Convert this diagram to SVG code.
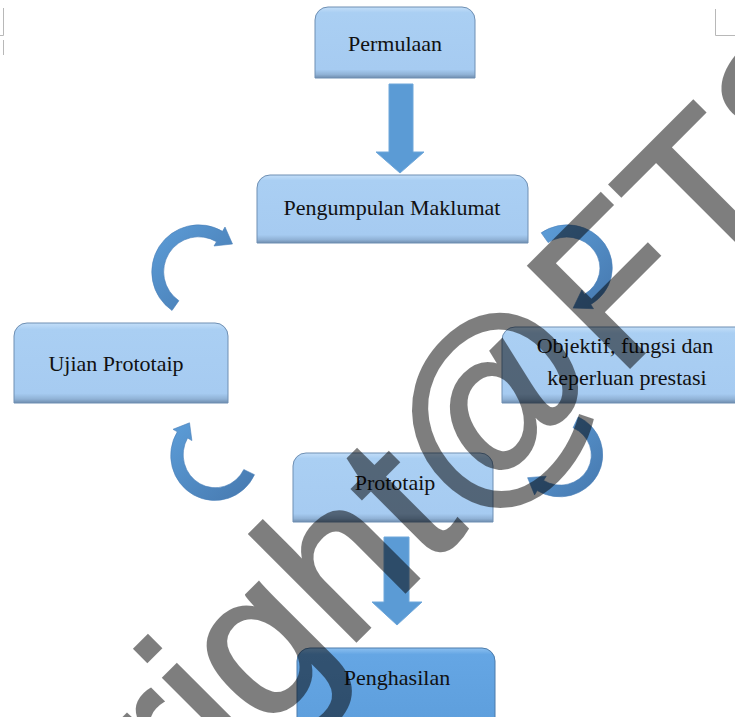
<svg xmlns="http://www.w3.org/2000/svg" width="735" height="717" viewBox="0 0 735 717">
<defs>
<linearGradient id="boxFill" x1="0" y1="0" x2="0" y2="1">
<stop offset="0" stop-color="#C3DEF8"/>
<stop offset="0.08" stop-color="#AACFF3"/>
<stop offset="0.88" stop-color="#A6CBF1"/>
<stop offset="0.95" stop-color="#90B2D6"/>
<stop offset="1" stop-color="#6F8DAE"/>
</linearGradient>
<linearGradient id="boxDark" x1="0" y1="0" x2="0" y2="1">
<stop offset="0" stop-color="#8CC0F0"/>
<stop offset="0.08" stop-color="#65A6E4"/>
<stop offset="0.88" stop-color="#5E9FDD"/>
<stop offset="0.95" stop-color="#4F86BC"/>
<stop offset="1" stop-color="#3E6A96"/>
</linearGradient>
<linearGradient id="arrowFill" x1="0" y1="0" x2="1" y2="1">
<stop offset="0" stop-color="#5C9DD8"/>
<stop offset="1" stop-color="#4678AE"/>
</linearGradient>
<style>
.box{fill:url(#boxFill);stroke:#6E8FB3;stroke-width:1}
.boxd{fill:url(#boxDark);stroke:#4C7BAA;stroke-width:1}
.lbl{font-family:"Liberation Serif","Times New Roman",serif;font-size:22px;fill:#111;text-anchor:middle}
.sa{fill:#5B9BD5;stroke:#6FA7DA;stroke-width:1}
.ca{fill:url(#arrowFill);stroke:#4A80B8;stroke-width:0.6}
.mark{stroke:#B8B8B8;stroke-width:1;fill:none}
.wm{font-family:"Liberation Sans",Arial,sans-serif;font-size:208px;fill:#000;stroke:#000;stroke-width:3;stroke-linejoin:miter}
</style>
</defs>
<path class="mark" d="M3.5,8 V35.5 H0 M3.5,40 V55"/>
<path class="mark" d="M715.5,9 V35.5 H735"/>
<g id="connectors">
<path class="sa" d="M389,84 H413 V152 H424 L400,173 L376,152 H389 Z"/>
<path class="sa" d="M384,537 H409 V602 H422 L397,625 L372,602 H384 Z"/>
<path class="ca" d="M172.0,310.5 A47,47 0 0 1 222.5,231.3 L225,227 L232.5,244 L214,246 L216.5,241.7 A35,35 0 0 0 178.9,300.7 Z"/>
<path class="ca" d="M541.2,232.8 A45,43 0 1 1 590.8,304.5 L593.5,308.7 L573.1,308.1 L581.8,290.0 L584.5,294.3 A33,31 0 1 0 548.1,242.6 Z"/>
<path class="ca" d="M578.2,416.9 A43,42 0 1 1 537.2,490.6 L534.6,494.9 L527.6,477.7 L546.2,476.2 L543.6,480.4 A31,30 0 1 0 573.1,427.8 Z"/>
<path class="ca" d="M254.5,474.7 A44,45 0 1 1 177.3,431.8 L173,429.3 L189.5,422.8 L191.9,440.6 L187.6,438 A32,33 0 1 0 243.8,469.5 Z"/>
</g>
<g id="n-permulaan">
<path class="box" d="M315,78 V20 A13,13 0 0 1 328,7 H462 A13,13 0 0 1 475,20 V78 Z"/>
<text class="lbl" x="395" y="51">Permulaan</text>
</g>
<g id="n-pengumpulan">
<path class="box" d="M257,243 V188 A13,13 0 0 1 270,175 H515 A13,13 0 0 1 528,188 V243 Z"/>
<text class="lbl" x="392" y="215">Pengumpulan Maklumat</text>
</g>
<g id="n-ujian">
<path class="box" d="M14,403 V336 A13,13 0 0 1 27,323 H215 A13,13 0 0 1 228,336 V403 Z"/>
<text class="lbl" x="116" y="371">Ujian Prototaip</text>
</g>
<g id="n-objektif">
<path class="box" d="M502,403 V340 A13,13 0 0 1 515,327 H739 A13,13 0 0 1 752,340 V403 Z"/>
<text class="lbl" x="625" y="353">Objektif, fungsi dan</text>
<text class="lbl" x="627" y="385">keperluan prestasi</text>
</g>
<g id="n-prototaip">
<path class="box" d="M293,522 V466 A13,13 0 0 1 306,453 H480 A13,13 0 0 1 493,466 V522 Z"/>
<text class="lbl" x="395" y="490">Prototaip</text>
</g>
<g id="n-penghasilan">
<path class="boxd" d="M297,728 V661 A13,13 0 0 1 310,648 H482 A13,13 0 0 1 495,661 V728 Z"/>
<text class="lbl" x="397" y="685">Penghasilan</text>
</g>
<g opacity="0.5">
<text class="wm" transform="translate(-128,1125) rotate(-45)">copyright@FTSM</text>
</g>
</svg>
